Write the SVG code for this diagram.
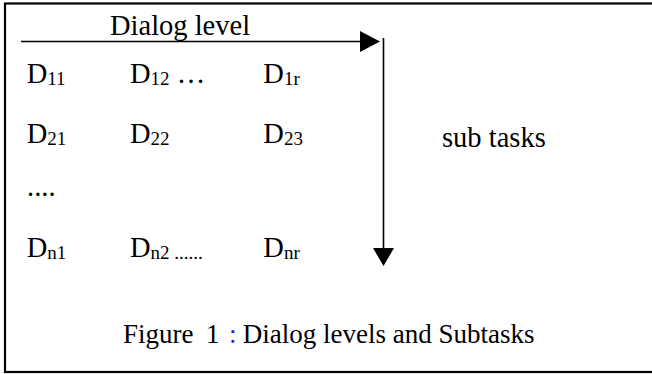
<svg xmlns="http://www.w3.org/2000/svg" width="652" height="374" viewBox="0 0 652 374">
<style>
text { font-family: "Liberation Serif", "Times New Roman", serif; fill: #000; }
.t { font-size: 27px; }
.big { font-size: 28.5px; }
.d { font-size: 28.5px; }
.s { font-size: 19px; }
.ln { stroke: #000; stroke-width: 1.6; fill: none; }
.hd { fill: #000; stroke: none; }
</style>
<rect x="5" y="3.5" width="660" height="368.5" fill="#fff" stroke="#000" stroke-width="2.2"/>
<g id="connectors">
  <g id="dialog-arrow">
    <line class="ln" x1="21" y1="41.5" x2="362" y2="41.5"/>
    <polygon class="hd" points="360,31 380,41.5 360,52"/>
  </g>
  <g id="subtask-arrow">
    <line class="ln" x1="383.5" y1="38" x2="383.5" y2="250"/>
    <polygon class="hd" points="373,248 394,248 383.5,266"/>
  </g>
</g>
<g id="label-dialog-level"><text class="big" x="110" y="35">Dialog level</text></g>
<g id="label-sub-tasks"><text class="big" x="442" y="146.7">sub tasks</text></g>
<g id="D11"><text class="d" x="26.7" y="83.3">D<tspan class="s" dy="2">11</tspan></text></g>
<g id="D12"><text class="d" x="130" y="83.3">D<tspan class="s" dy="2">12</tspan><tspan dy="-2"> …</tspan></text></g>
<g id="D1r"><text class="d" x="263.3" y="83.3">D<tspan class="s" dy="2">1r</tspan></text></g>
<g id="D21"><text class="d" x="26.7" y="142.7">D<tspan class="s" dy="2">21</tspan></text></g>
<g id="D22"><text class="d" x="130" y="142.7">D<tspan class="s" dy="2">22</tspan></text></g>
<g id="D23"><text class="d" x="263.3" y="142.7">D<tspan class="s" dy="2">23</tspan></text></g>
<g id="dots"><text class="d" x="27" y="196">....</text></g>
<g id="Dn1"><text class="d" x="26.7" y="256.7">D<tspan class="s" dy="2">n1</tspan></text></g>
<g id="Dn2"><text class="d" x="130" y="256.7">D<tspan class="s" dy="2">n2 ......</tspan></text></g>
<g id="Dnr"><text class="d" x="263.3" y="256.7">D<tspan class="s" dy="2">nr</tspan></text></g>
<g id="caption"><text class="t" y="343.3"><tspan x="123">Figure</tspan><tspan x="206">1</tspan><tspan x="229" fill="#1a1aff">:</tspan><tspan x="242.7">Dialog levels and Subtasks</tspan></text></g>
</svg>
